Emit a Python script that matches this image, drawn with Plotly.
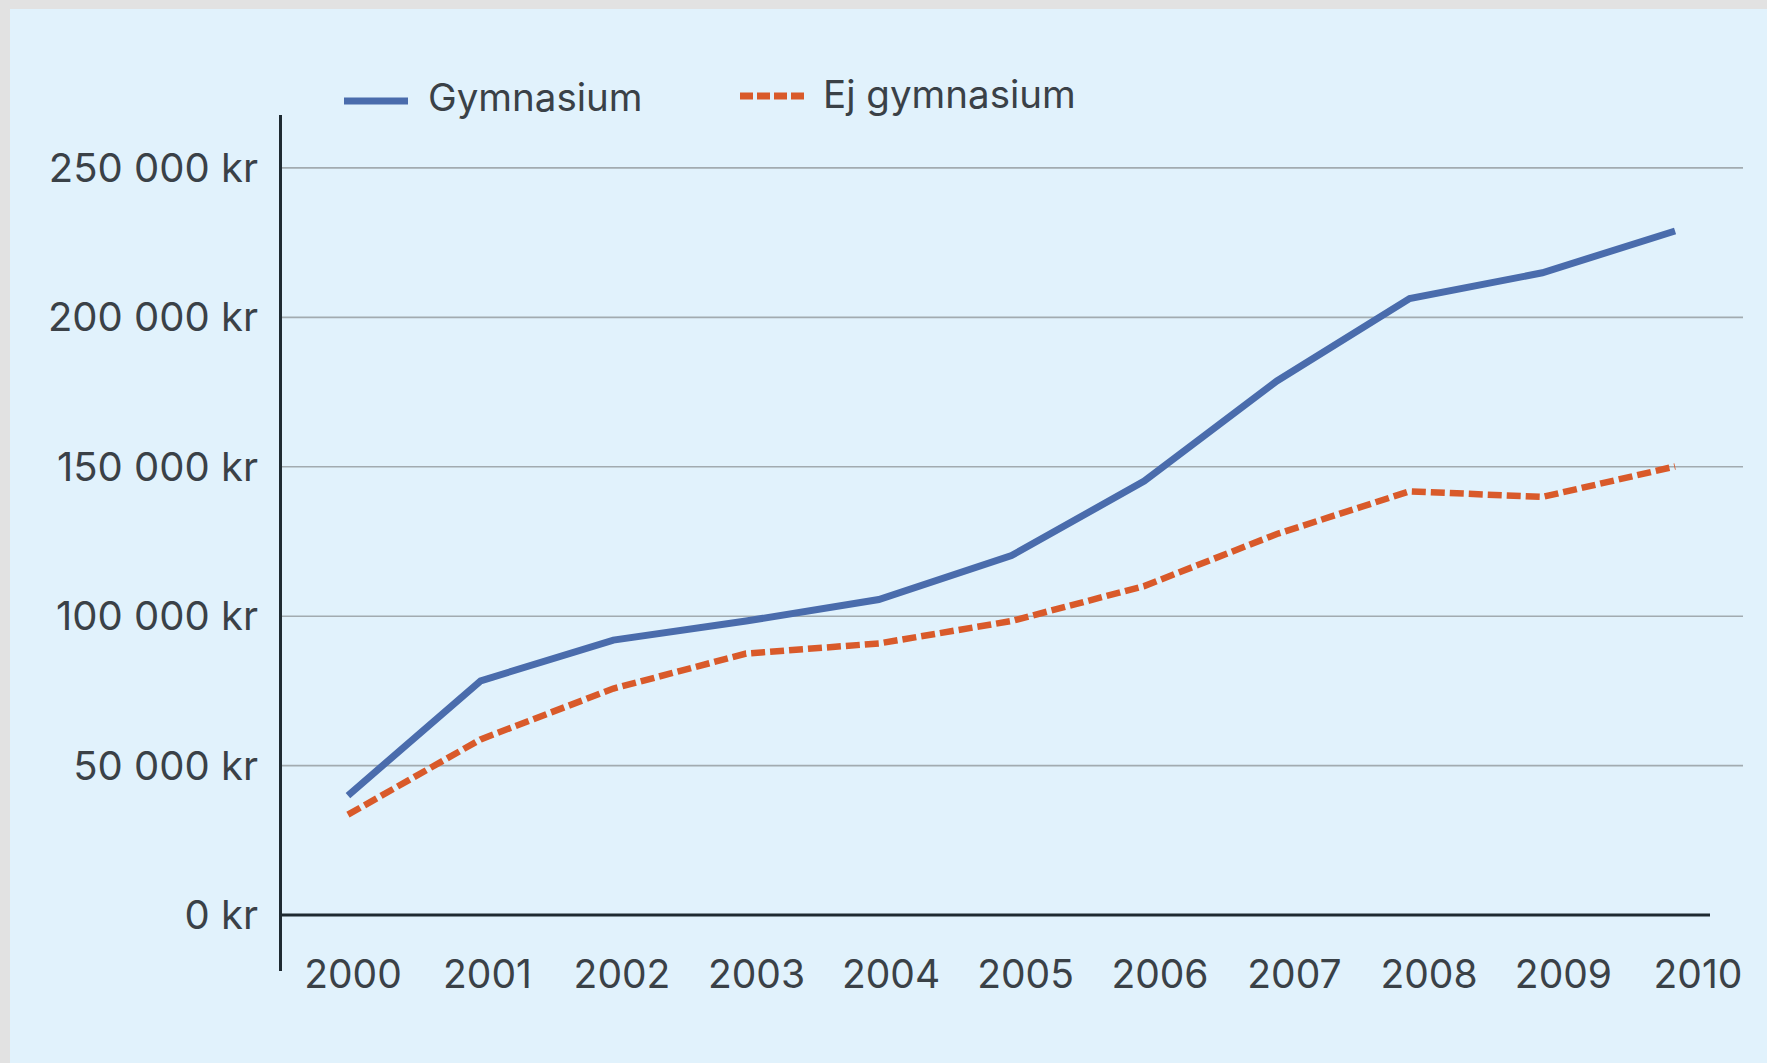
import plotly.graph_objects as go

years = [2000, 2001, 2002, 2003, 2004, 2005, 2006, 2007, 2008, 2009, 2010]
gymnasium = [40000, 78400, 92000, 98400, 105600, 120300, 145200, 178700, 206300, 214900, 228900]
ej_gymnasium = [33600, 58800, 75800, 87500, 90900, 98400, 110100, 127500, 141800, 139900, 150100]
y_ticks = [0, 50000, 100000, 150000, 200000, 250000]
y_labels = ["0 kr", "50 000 kr", "100 000 kr", "150 000 kr", "200 000 kr", "250 000 kr"]
series_names = ["Gymnasium", "Ej gymnasium"]

BLUE = "#4A6CAC"
ORANGE = "#D95A2A"
TEXT = "#3A4147"
AXIS = "#1E2A31"
GRID = "#A2ABB0"
BG = "#E1F2FC"
FONT = "Inter"

W, H = 1767, 1063
L, R, T, B = 282, 24, 115, 92
PW, PH = W - L - R, H - T - B

def px_x(px):
    return (px - L) / PW

def px_y(py):
    return (H - B - py) / PH

fig = go.Figure()
fig.add_trace(go.Scatter(x=years, y=gymnasium, mode="lines", name=series_names[0],
                         line=dict(color=BLUE, width=7), showlegend=False, hoverinfo="x+y"))
fig.add_trace(go.Scatter(x=years, y=ej_gymnasium, mode="lines", name=series_names[1],
                         line=dict(color=ORANGE, width=6.5, dash="14px,5px"), showlegend=False, hoverinfo="x+y"))
# invisible trace to carry the tick-label axis
fig.add_trace(go.Scatter(x=years, y=gymnasium, xaxis="x2", mode="markers",
                         marker=dict(opacity=0), showlegend=False, hoverinfo="skip"))

shapes = []
# background panel with thin grey frame
shapes.append(dict(type="rect", xref="paper", yref="paper", layer="below",
                   x0=px_x(10), x1=px_x(W + 20), y0=px_y(H + 20), y1=px_y(9),
                   fillcolor=BG, line=dict(width=0)))
# gridlines
for v in y_ticks[1:]:
    shapes.append(dict(type="line", xref="paper", yref="y", layer="below",
                       x0=0, x1=1, y0=v, y1=v, line=dict(color=GRID, width=1.6)))
# zero line
shapes.append(dict(type="line", xref="paper", yref="y", layer="above",
                   x0=0, x1=px_x(1710), y0=0, y1=0, line=dict(color=AXIS, width=3)))
# legend samples
shapes.append(dict(type="line", xref="paper", yref="paper",
                   x0=px_x(344), x1=px_x(408), y0=px_y(101), y1=px_y(101),
                   line=dict(color=BLUE, width=7)))
shapes.append(dict(type="line", xref="paper", yref="paper",
                   x0=px_x(740), x1=px_x(804), y0=px_y(96), y1=px_y(96),
                   line=dict(color=ORANGE, width=7, dash="13px,4px")))

annotations = [
    dict(text=series_names[0], xref="paper", yref="paper", x=px_x(426), y=px_y(97),
         xanchor="left", yanchor="middle", showarrow=False, font=dict(family=FONT, size=38.5, color=TEXT)),
    dict(text=series_names[1], xref="paper", yref="paper", x=px_x(821), y=px_y(94),
         xanchor="left", yanchor="middle", showarrow=False, font=dict(family=FONT, size=38.5, color=TEXT)),
]

fig.update_layout(
    width=W, height=H,
    margin=dict(l=L, r=R, t=T, b=B, pad=0),
    paper_bgcolor="#E2E2E2",
    plot_bgcolor="rgba(0,0,0,0)",
    font=dict(family=FONT, size=39, color=TEXT),
    shapes=shapes,
    annotations=annotations,
    xaxis=dict(range=[1999.503, 2010.512], visible=False, fixedrange=True),
    xaxis2=dict(range=[1999.472, 2010.335], overlaying="x", anchor="free", position=0.027,
                tickvals=years, ticktext=[str(y) for y in years], showgrid=False,
                showline=False, zeroline=False, ticks="",
                tickfont=dict(family=FONT, size=39, color=TEXT)),
    yaxis=dict(range=[-18700, 267700], tickvals=y_ticks, ticktext=y_labels,
               showgrid=False, zeroline=False, showline=True, linecolor=AXIS, linewidth=3,
               ticks="", ticklabelstandoff=13,
               tickfont=dict(family=FONT, size=40, color=TEXT)),
)

fig.write_html("out.html", config={"displayModeBar": False},
               post_script="document.body.style.margin='0';document.body.style.overflow='hidden';")
